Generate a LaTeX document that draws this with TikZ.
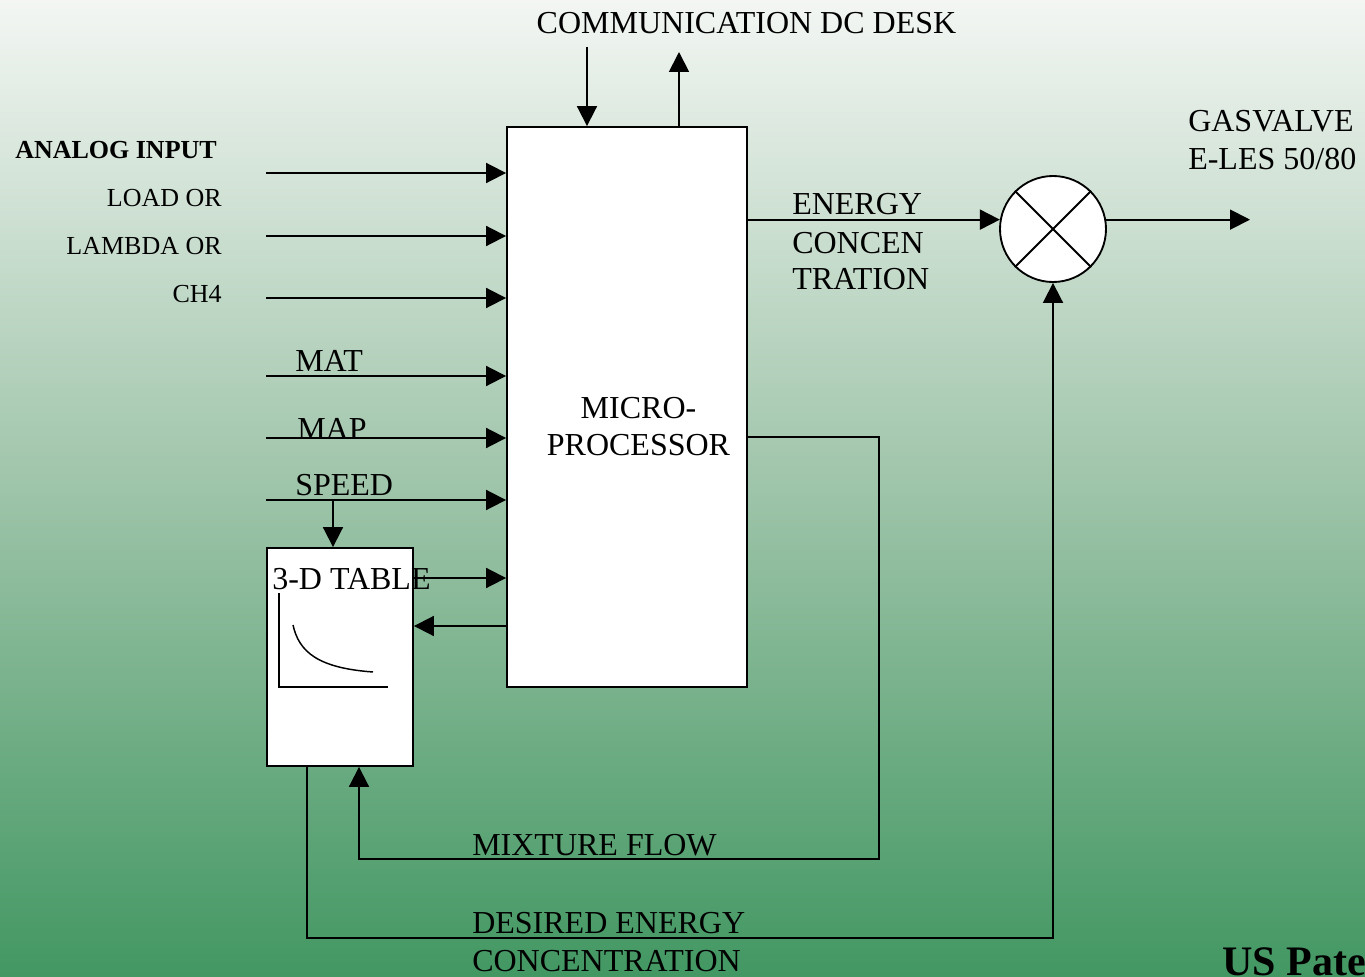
\documentclass[tikz,border=0pt]{standalone}
\usepackage{fontspec}
\setmainfont{Liberation Serif}
\usetikzlibrary{arrows.meta,calc}
\definecolor{bgtop}{RGB}{243,246,243}
\definecolor{bgmid}{RGB}{158,196,169}
\definecolor{bgbot}{RGB}{66,151,98}
\tikzset{
 ln/.style={line width=1.4pt},
 arr/.style={ln,-{Triangle[length=15pt,width=15pt]}},
 blk/.style={draw,line width=1.4pt,fill=white,inner sep=0pt},
 big/.style={font=\fontsize{24}{28}\selectfont, inner sep=0pt},
 sml/.style={font=\fontsize{19.5}{23}\selectfont, inner sep=0pt},
}
\begin{document}
\begin{tikzpicture}[x=0.75pt,y=-0.75pt]
\shade[top color=bgtop,bottom color=bgbot,middle color=bgmid] (0,0) rectangle (1365,977);
\useasboundingbox (0,0) rectangle (1365,977);
\begin{scope}
\clip (0,0) rectangle (1365,977);
% blocks
\node[blk,minimum width=180pt,minimum height=420pt] (micro) at (627,407) {};
\node[blk,minimum width=109.5pt,minimum height=163.5pt] (table) at (340,657) {};
\node[blk,circle,minimum size=79.5pt] (valve) at (1053,229) {};
\draw[ln] (valve.45) -- (valve.225) (valve.135) -- (valve.315);
% coordinates
\coordinate (c1) at (587,47);
\coordinate (c2) at (679,52);
\coordinate (i1) at (266,173);
\coordinate (i2) at (266,236);
\coordinate (i3) at (266,298);
\coordinate (i4) at (266,376);
\coordinate (i5) at (266,438);
\coordinate (i6) at (266,500);
\coordinate (sp) at (333,500);
\coordinate (t1) at (413,578);
\coordinate (t2) at (413,626);
\coordinate (mxr) at (879,437);
\coordinate (mx) at (879,859);
\coordinate (mxin) at (359,766);
\coordinate (de) at (307,938);
\coordinate (out) at (1250,220);
% connectors
\draw[arr] (c1) -- (c1 |- micro.north);
\draw[arr] (c2 |- micro.north) -- (c2);
\foreach \i in {i1,i2,i3,i4,i5,i6} \draw[arr] (\i) -- (\i -| micro.west);
\draw[arr] (sp) -- (sp |- table.north);
\draw[arr] (table.east |- t1) -- (t1 -| micro.west);
\draw[arr] (t2 -| micro.west) -- (table.east |- t2);
\draw[arr] (micro.east |- mxr) -| (mx) -| (table.south -| mxin);
\draw[arr] (table.south -| de) |- (valve.south |- de) -- (valve.south);
\draw[arr] (micro.east |- valve.170) -- (valve.170);
\draw[arr] (valve.10) -- (valve.10 -| out);
% inner graph
\draw[line width=1.2pt] (279,593) -- (279,687) -- (388,687);
\draw[line width=1.1pt] (293,625) .. controls (299,652) and (318,668) .. (373,672);
% texts
\node[big,anchor=base] (comm) at (746.5,34) {COMMUNICATION DC DESK};
\node[inner sep=0pt,font=\fontsize{19.5}{23}\selectfont\bfseries,anchor=base west] (analog) at (15,159) {ANALOG INPUT};
\node[sml,anchor=base east] (load) at (222,207) {LOAD OR};
\node[sml,anchor=base east] (lambda) at (222,255) {LAMBDA OR};
\node[sml,anchor=base east] (ch4) at (222,303) {CH4};
\node[big,anchor=base west] (mat) at (295,371) {MAT};
\node[big,anchor=base west] (map) at (297,439) {MAP};
\node[big,anchor=base west] (speed) at (295,495) {SPEED};
\node[big,anchor=base west] (tbl) at (272,589) {3-D TABLE};
\node[big,anchor=base] (mic1) at (638.5,418) {MICRO-};
\node[big,anchor=base] (mic2) at (638.5,455) {PROCESSOR};
\node[big,anchor=base west] (en1) at (792,215) {ENERGY};
\node[big,anchor=base west] (en2) at (792,253) {CONCEN};
\node[big,anchor=base west] (en3) at (792,290) {TRATION};
\node[big,anchor=base west] (gv1) at (1188,132) {GASVALVE};
\node[big,anchor=base west] (gv2) at (1188,170) {E-LES 50/80};
\node[big,anchor=base west] (mix) at (472,855) {MIXTURE FLOW};
\node[big,anchor=base west] (des1) at (472,933) {DESIRED ENERGY};
\node[big,anchor=base west] (des2) at (472,971) {CONCENTRATION};
\node[inner sep=0pt,font=\fontsize{31.5}{36}\selectfont\bfseries,anchor=base west] (us) at (1222,975) {US Pate};
\end{scope}
\end{tikzpicture}
\end{document}
